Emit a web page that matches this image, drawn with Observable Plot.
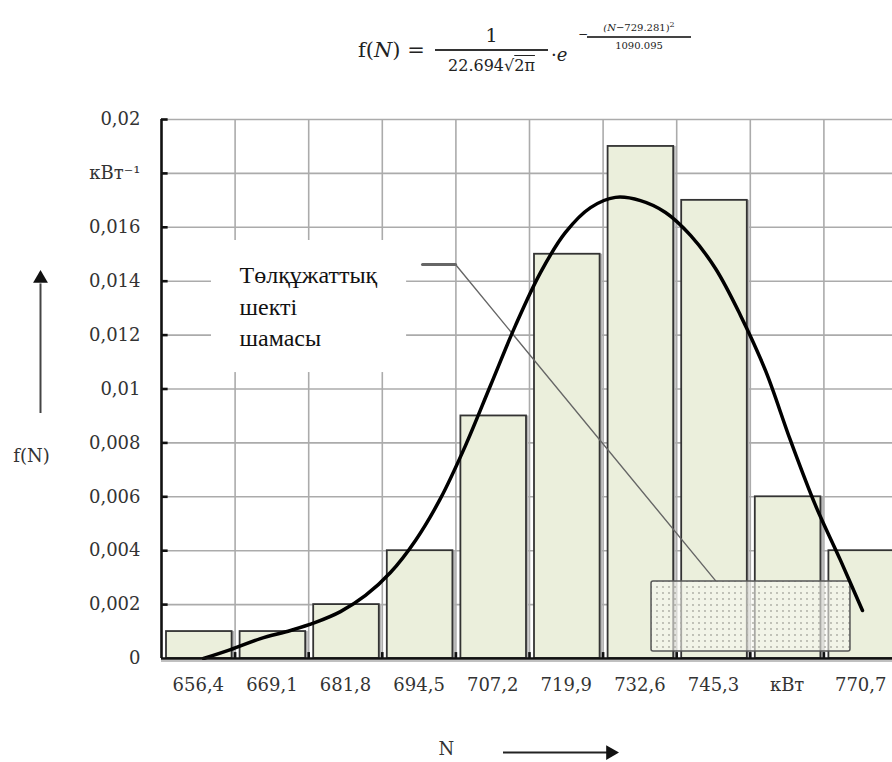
<!DOCTYPE html>
<html>
<head>
<meta charset="utf-8">
<script src="https://cdn.jsdelivr.net/npm/d3@7"></script>
<script src="https://cdn.jsdelivr.net/npm/@observablehq/plot@0.6"></script>
<style>
  html, body { margin: 0; padding: 0; background: #fff; overflow: hidden; }
  #wrap { width: 892px; height: 762px; position: relative; }
  #formula { position: relative; width: 892px; height: 92px; font-family: "DejaVu Serif", serif; color: #222; }
  #formula span, #formula div { position: absolute; white-space: nowrap; line-height: 1; }
  svg { display: block; max-width: none !important; }
</style>
</head>
<body>
<div id="wrap">
  <div id="formula">
    <span style="left:358px;top:40px;font-size:21px">f(<i>N</i>) =</span>
    <span style="left:435px;top:26px;width:113px;text-align:center;font-size:19px">1</span>
    <div style="left:435px;top:49px;width:113px;height:2px;background:#333"></div>
    <span style="left:435px;top:58px;width:113px;text-align:center;font-size:16px">22.694√<span style="position:static;text-decoration:overline">2π</span></span>
    <span style="left:551px;top:46px;font-size:18px">·<i>e</i></span>
    <span style="left:578px;top:28px;font-size:12px">−</span>
    <span style="left:587px;top:21px;width:104px;text-align:center;font-size:10px"><i>(N</i>−729.281)<sup style="font-size:8px">2</sup></span>
    <div style="left:587px;top:36px;width:104px;height:1.5px;background:#444"></div>
    <span style="left:587px;top:41px;width:104px;text-align:center;font-size:10px">1090.095</span>
  </div>
  <div id="chart"></div>
</div>
<script>
// ---- data ----
const binLabels = ["656,4", "669,1", "681,8", "694,5", "707,2", "719,9", "732,6", "745,3", "кВт", "770,7"];
const freq = [0.001, 0.001, 0.002, 0.004, 0.009, 0.015, 0.019, 0.017, 0.006, 0.004];
const yTicks = [0, 0.002, 0.004, 0.006, 0.008, 0.010, 0.012, 0.014, 0.016, 0.018, 0.020];
const yTickLabels = ["0", "0,002", "0,004", "0,006", "0,008", "0,01", "0,012", "0,014", "0,016", "кВт⁻¹", "0,02"];
// smoothed density curve (x in bin units, y density)
const curveX = [0.571, 0.938, 1.345, 1.753, 2.092, 2.432, 2.772, 3.111, 3.451, 3.791, 4.130, 4.470, 4.810, 5.149, 5.489, 5.829, 6.168, 6.508, 6.848, 7.188, 7.527, 7.867, 8.207, 8.546, 8.886, 9.226, 9.524];
const curveY = [0, 0.00033, 0.00074, 0.00104, 0.00134, 0.00174, 0.00234, 0.00319, 0.00438, 0.00594, 0.00790, 0.01013, 0.01236, 0.01432, 0.01581, 0.01673, 0.01711, 0.01699, 0.01655, 0.01570, 0.01447, 0.01273, 0.01068, 0.00809, 0.00568, 0.00364, 0.00178];
// annotation
const noteText = "Төлқұжаттық\nшекті\nшамасы";
const noteBox = {x1: 0.679, x2: 3.33, y1: 0.01061, y2: 0.01551};
const notePos = {x: 1.06, y: 0.01474};
const leader = [[3.546, 0.01462], [3.995, 0.01462], [7.527, 0.00289]];
const limitBox = {x1: 6.658, x2: 9.361, y1: 0.00026, y2: 0.002857};
const yArrow = {x: -1.644, y1: 0.00909, y2: 0.01390, tip: 0.01410};
const xArrow = {y: -0.00349, x1: 4.647, x2: 6.06, tip: 6.10};
const yName = {x: -1.766, y: 0.0075, text: "f(N)"};
const xName = {x: 3.872, y: -0.00338, text: "N"};

const idx = d3.range(freq.length);
const curve = curveX.map((x, i) => ({x, y: curveY[i]}));
const font = "DejaVu Serif";

const plot = Plot.plot({
  width: 892,
  height: 670,
  x: {domain: [0, 10], range: [161, 897], axis: null},
  y: {domain: [0, 0.02], range: [566, 27], axis: null},
  style: {background: "white", fontFamily: font, overflow: "hidden"},
  marks: [
    // grid
    Plot.ruleY(yTicks.slice(1), {x1: 0, x2: 10, stroke: "#ababab", strokeWidth: 1.6}),
    Plot.ruleX(d3.range(1, 11), {y1: 0, y2: 0.02, stroke: "#ababab", strokeWidth: 1.6}),
    // note box (white background hiding grid)
    Plot.rect([noteBox], {x1: "x1", x2: "x2", y1: "y1", y2: "y2", fill: "white"}),
    // bars with shadow
    Plot.rectY(freq, {x1: (d, i) => i, x2: (d, i) => i + 1, y: d => d, insetLeft: 5, insetRight: 3, dx: 2.5, fill: "#b4b4b4"}),
    Plot.rectY(freq, {x1: (d, i) => i, x2: (d, i) => i + 1, y: d => d, insetLeft: 5, insetRight: 3, fill: "#ebefdc", stroke: "#333", strokeWidth: 1.8}),
    // leader line
    Plot.line(leader.slice(0, 2), {x: d => d[0], y: d => d[1], stroke: "#666", strokeWidth: 3}),
    Plot.line(leader.slice(1), {x: d => d[0], y: d => d[1], stroke: "#666", strokeWidth: 1.4}),
    // limit box
    Plot.rect([limitBox], {x1: "x1", x2: "x2", y1: "y1", y2: "y2", fill: "url(#dots)", stroke: "#555", strokeWidth: 1.5, rx: 2}),
    // density curve
    Plot.line(curve, {x: "x", y: "y", curve: "catmull-rom", stroke: "#000", strokeWidth: 3.5}),
    // axes lines
    Plot.ruleY([0], {x1: 0, x2: 10, stroke: "#c0c0c0", strokeWidth: 2, dy: 2.5}),
    Plot.ruleY([0], {x1: 0, x2: 10, stroke: "#111", strokeWidth: 2.6}),
    Plot.ruleX([0], {y1: 0, y2: 0.02, stroke: "#111", strokeWidth: 2.6}),
    Plot.ruleY(yTicks.slice(1), {x1: 0, x2: 0.09, stroke: "#111", strokeWidth: 2.6}),
    Plot.ruleX(d3.range(1, 10), {y1: 0, y2: 0.00022, stroke: "#111", strokeWidth: 2.6}),
    // tick labels
    Plot.text(yTicks, {x: 0, y: d => d, text: (d, i) => yTickLabels[i], textAnchor: "end", dx: -21, fontSize: 18, fill: "#333"}),
    Plot.text(idx, {x: i => i + 0.5, y: 0, text: i => binLabels[i], dy: 27, fontSize: 18, fill: "#333"}),
    // note text
    Plot.text([notePos], {x: "x", y: "y", text: () => noteText, textAnchor: "start", lineAnchor: "top", lineHeight: 1.3, fontSize: 24, fontFamily: "Liberation Serif", fill: "#111"}),
    // axis names and arrows
    Plot.text([yName], {x: "x", y: "y", text: "text", fontSize: 18, fill: "#333"}),
    Plot.text([xName], {x: "x", y: "y", text: "text", fontSize: 18, fill: "#333"}),
    Plot.ruleX([yArrow], {x: "x", y1: "y1", y2: "y2", stroke: "#444", strokeWidth: 2}),
    Plot.dot([yArrow], {x: "x", y: "tip", symbol: "triangle", r: 5.5, fill: "#111", stroke: null}),
    Plot.ruleY([xArrow], {y: "y", x1: "x1", x2: "x2", stroke: "#222", strokeWidth: 2}),
    Plot.dot([xArrow], {x: "tip", y: "y", symbol: "triangle", rotate: 90, r: 5.5, fill: "#111", stroke: null})
  ]
});

// dotted pattern for the limit box
const defs = d3.select(plot).insert("defs", ":first-child");
const pat = defs.append("pattern").attr("id", "dots").attr("width", 6).attr("height", 6).attr("patternUnits", "userSpaceOnUse");
pat.append("rect").attr("width", 6).attr("height", 6).attr("fill", "rgba(246,247,240,0.6)");
pat.append("circle").attr("cx", 3).attr("cy", 3).attr("r", 0.9).attr("fill", "#a9a9a0");

document.getElementById("chart").appendChild(plot);
</script>
</body>
</html>
